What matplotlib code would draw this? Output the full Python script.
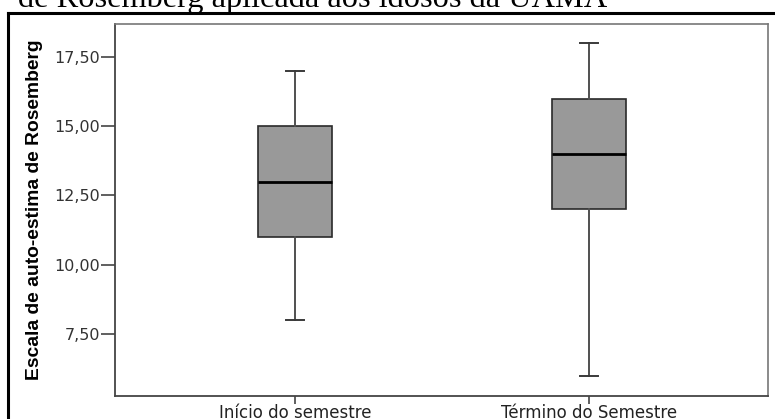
import matplotlib
matplotlib.use("Agg")
import matplotlib.pyplot as plt
from matplotlib.lines import Line2D

# dados
grupos = ["Início do semestre", "Término do Semestre"]
minimo = [8.0, 6.0]
q1 = [11.0, 12.0]
mediana = [13.0, 14.0]
q3 = [15.0, 16.0]
maximo = [17.0, 18.0]
yticks = [7.5, 10.0, 12.5, 15.0, 17.5]

stats = []
for i in range(len(grupos)):
    stats.append({"label": grupos[i], "whislo": minimo[i], "q1": q1[i],
                  "med": mediana[i], "q3": q3[i], "whishi": maximo[i],
                  "fliers": []})

fig = plt.figure(figsize=(7.75, 4.19), dpi=100)
ax = fig.add_axes([115/775, 23/419, 653/775, 372/419])

ax.bxp(stats, positions=[1, 2], widths=0.252, patch_artist=True,
       boxprops=dict(facecolor="#999999", edgecolor="#2a2a2a", linewidth=1.2),
       medianprops=dict(color="black", linewidth=2.0),
       whiskerprops=dict(color="#505050", linewidth=1.4),
       capprops=dict(color="#3a3a3a", linewidth=1.4),
       capwidths=0.064)

ax.set_xlim(0.388, 2.609)
ax.set_ylim(5.26, 18.69)
ax.set_yticks(yticks)
ax.set_yticklabels([f"{v:.2f}".replace(".", ",") for v in yticks])
ax.set_xticks([1, 2])
ax.set_xticklabels(grupos)

# comprimentos em pontos (14 px e 8 px)
ax.tick_params(axis="y", length=10, width=1.2, color="#444444", pad=0.5,
               labelsize=11.5, labelcolor="#333333")
ax.tick_params(axis="x", length=5.5, width=1.2, color="#444444", pad=0.3,
               labelsize=12, labelcolor="#222222")

for s in ["left", "bottom"]:
    ax.spines[s].set_color("#444444")
    ax.spines[s].set_linewidth(1.3)
for s in ["top", "right"]:
    ax.spines[s].set_color("#777777")
    ax.spines[s].set_linewidth(1.2)

ax.set_ylabel("Escala de auto-estima de Rosemberg",
              family="Liberation Sans", fontweight="bold", fontsize=13.9)
ax.yaxis.set_label_coords(43/775, (419 - 210)/419, transform=fig.transFigure)

# moldura externa e titulo cortado
fig.add_artist(Line2D([8/775, 1], [1 - 13/419, 1 - 13/419], color="black",
                      linewidth=2.2, transform=fig.transFigure))
fig.add_artist(Line2D([8/775, 8/775], [0, 1 - 13/419], color="black",
                      linewidth=2.2, transform=fig.transFigure))
fig.text(18/775, 1 - 7/419, "de Rosemberg aplicada aos idosos da UAMA",
         family="Liberation Serif", fontsize=23.3, va="baseline", ha="left")

fig.savefig("out.png", dpi=100)
